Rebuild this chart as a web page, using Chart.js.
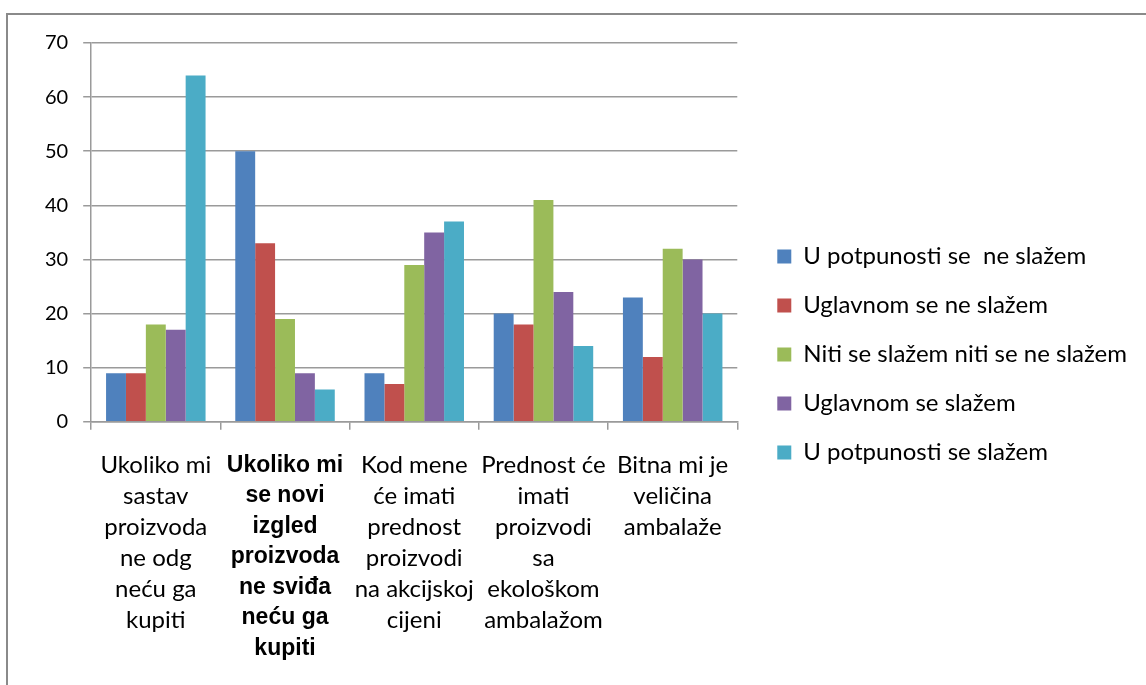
<!DOCTYPE html>
<html>
<head>
<meta charset="utf-8">
<script src="https://cdn.jsdelivr.net/npm/chart.js@4/dist/chart.umd.min.js"></script>
<style>
    html, body { margin: 0; padding: 0; background: #fff; }
    #frame {
        position: absolute;
        left: 6px;
        top: 13px;
        width: 1150px;
        height: 680px;
        border-left: 2px solid #8a8a8a;
        border-top: 2px solid #8a8a8a;
    }
    #wrap { position: absolute; left: 0; top: 0; width: 1138px; height: 670px; }
</style>
</head>
<body>
<div id="frame"><div id="wrap"><canvas id="chart"></canvas></div></div>
<script>
const categories = [
    ['Ukoliko mi', 'sastav', 'proizvoda', 'ne odg', 'neću ga', 'kupiti'],
    ['Ukoliko mi', 'se novi', 'izgled', 'proizvoda', 'ne sviđa', 'neću ga', 'kupiti'],
    ['Kod mene', 'će imati', 'prednost', 'proizvodi', 'na akcijskoj', 'cijeni'],
    ['Prednost će', 'imati', 'proizvodi', 'sa', 'ekološkom', 'ambalažom'],
    ['Bitna mi je', 'veličina', 'ambalaže']
];
const seriesNames = [
    'U potpunosti se  ne slažem',
    'Uglavnom se ne slažem',
    'Niti se slažem niti se ne slažem',
    'Uglavnom se slažem',
    'U potpunosti se slažem'
];
const potpunoNe = [9, 50, 9, 20, 23];
const uglavnomNe = [9, 33, 7, 18, 12];
const niti = [18, 19, 29, 41, 32];
const uglavnomDa = [17, 9, 35, 24, 30];
const potpunoDa = [64, 6, 37, 14, 20];
const yTicks = [0, 10, 20, 30, 40, 50, 60, 70];

const colors = ['#4F81BD', '#C0504D', '#9BBB59', '#8064A2', '#4BACC6'];
const values = [potpunoNe, uglavnomNe, niti, uglavnomDa, potpunoDa];

// wider gap between the plot and the legend, like in the original
const legendGap = {
    id: 'legendGap',
    beforeInit(chart) {
        const legend = chart.legend;
        if (!legend) return;
        const fit = legend.fit;
        legend.fit = function () {
            fit.call(this);
            this.width += 20;
        };
    },
    afterLayout(chart) {
        const legend = chart.legend;
        if (!legend) return;
        legend.left += 15;
        legend.top -= 18;
    }
};

function drawChart() {
    const ctx = document.getElementById('chart').getContext('2d');
    new Chart(ctx, {
        type: 'bar',
        data: {
            labels: categories,
            datasets: values.map((data, i) => ({
                label: seriesNames[i],
                data,
                backgroundColor: colors[i],
                borderWidth: 0,
                barPercentage: 1,
                categoryPercentage: 0.77
            }))
        },
        options: {
            responsive: true,
            maintainAspectRatio: false,
            animation: false,
            layout: { padding: { top: 28, left: 22, right: 4, bottom: 1 } },
            plugins: {
                tooltip: { enabled: false },
                legend: {
                    position: 'right',
                    maxWidth: 440,
                    labels: {
                        font: { family: 'Lato', size: 24 },
                        color: '#000',
                        boxWidth: 14,
                        boxHeight: 14,
                        padding: 25
                    }
                }
            },
            scales: {
                y: {
                    min: 0,
                    max: 70,
                    afterBuildTicks: axis => { axis.ticks = yTicks.map(v => ({ value: v })); },
                    ticks: {
                        font: { family: 'Lato', size: 20 },
                        color: '#000',
                        padding: 15
                    },
                    grid: { color: '#9a9a9a', lineWidth: 1.5, tickLength: 8 },
                    border: { color: '#9a9a9a', width: 1.5 }
                },
                x: {
                    ticks: {
                        maxRotation: 0,
                        autoSkip: false,
                        padding: 20,
                        color: '#000',
                        font: c => c.index === 1
                            ? { family: 'Liberation Sans', size: 23, weight: 'bold', lineHeight: 1.33 }
                            : { family: 'Lato', size: 24, lineHeight: 1.29 }
                    },
                    grid: { offset: true, drawOnChartArea: false, color: '#9a9a9a', lineWidth: 1.5, tickLength: 8 },
                    border: { color: '#9a9a9a', width: 1.5 }
                }
            }
        },
        plugins: [legendGap]
    });
}

Promise.all([
    document.fonts.load('24px Lato'),
    document.fonts.load('bold 23px "Liberation Sans"')
]).then(drawChart, drawChart);
</script>
</body>
</html>
